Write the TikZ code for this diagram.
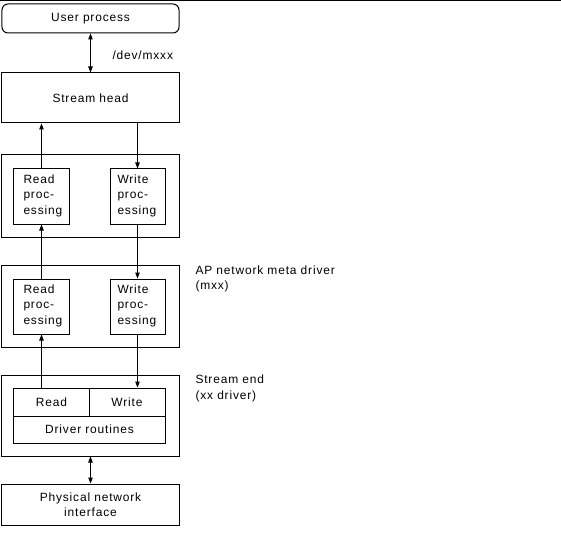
\documentclass[tikz,border=0pt]{standalone}
\usepackage{fontspec}
\setmainfont{Liberation Sans}[LetterSpace=7]
\usetikzlibrary{arrows.meta}
\begin{document}
\begin{tikzpicture}[x=1bp,y=-1bp,line width=1bp,
    every node/.style={font=\fontsize{12}{15.5}\selectfont,inner sep=0pt},
    box/.style={draw,rectangle,minimum width=177bp},
    inbox/.style={draw,rectangle,minimum width=55bp,minimum height=55bp},
    cell/.style={draw,rectangle},
    lbl/.style={anchor=base west,align=left},
    arr/.style={-{Triangle[length=6bp,width=4.5bp]}},
    dblarr/.style={{Triangle[length=6bp,width=4.5bp]}-{Triangle[length=6bp,width=4.5bp]}}]
    \useasboundingbox (0,0) rectangle (561,548);
    \draw (0,0.5) -- (561,0.5);
    % user side
    \node (user) at (90.5,18.5) [box,minimum height=29bp,rounded corners=6bp] {User process};
    \node (head) at (90.5,98) [box,minimum height=50bp] {Stream head};
    \node (dev) at (112,59.5) [lbl] {/dev/mxxx};
    % first module
    \node (mod1) at (90.5,196) [box,minimum height=82bp] {};
    \node (rd1) at (41.5,196.5) [inbox] {};
    \node (wr1) at (137.5,196.5) [inbox] {};
    \node at (23,214.3) [lbl] {Read\\proc-\\essing};
    \node at (117,214.3) [lbl] {Write\\proc-\\essing};
    % meta driver
    \node (mod2) at (90.5,306) [box,minimum height=82bp] {};
    \node (rd2) at (41.5,306.5) [inbox] {};
    \node (wr2) at (137.5,306.5) [inbox] {};
    \node at (23,324.3) [lbl] {Read\\proc-\\essing};
    \node at (117,324.3) [lbl] {Write\\proc-\\essing};
    \node (meta) at (195,289.5) [lbl] {AP network meta driver\\(mxx)};
    % stream end
    \node (drv) at (90.5,415.5) [box,minimum height=81bp] {};
    \node (drvrd) at (51.5,402) [cell,minimum width=75bp,minimum height=28bp] {Read};
    \node (drvwr) at (127,402) [cell,minimum width=76bp,minimum height=28bp] {Write};
    \node (drvrt) at (89.5,429.5) [cell,minimum width=151bp,minimum height=27bp] {Driver routines};
    \node (send) at (195,399.2) [lbl] {Stream end\\(xx driver)};
    \node (phys) at (90.5,504.5) [box,minimum height=41bp,align=center] {Physical network\\interface};
    % connectors
    \draw[dblarr] (user.south) -- (head.north);
    \draw[arr] (rd1.north) -- (rd1.north |- head.south);
    \draw[arr] (wr1.north |- head.south) -- (wr1.north);
    \draw[arr] (rd2.north) -- (rd1.south);
    \draw[arr] (wr1.south) -- (wr2.north);
    \draw[arr] (rd2.south |- drvrd.north) -- (rd2.south);
    \draw[arr] (wr2.south) -- (wr2.south |- drvwr.north);
    \draw[dblarr] (drv.south) -- (phys.north);
\end{tikzpicture}
\end{document}
